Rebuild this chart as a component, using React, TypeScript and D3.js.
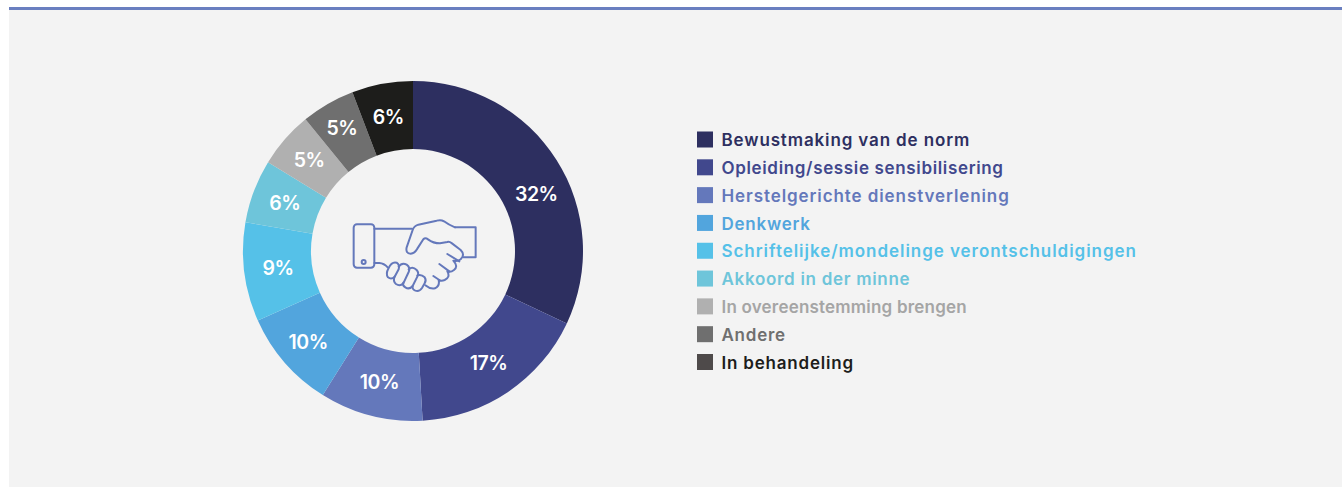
import React from "react";
import * as d3 from "d3";

const categories = ["Bewustmaking van de norm","Opleiding/sessie sensibilisering","Herstelgerichte dienstverlening","Denkwerk","Schriftelijke/mondelinge verontschuldigingen","Akkoord in der minne","In overeenstemming brengen","Andere","In behandeling"];
const values = [32, 17.1, 9.8, 9.4, 9.4, 6.05, 5.35, 5.1, 5.8];
const labels = ["32%","17%","10%","10%","9%","6%","5%","5%","6%"];
const colors = ["#2d2f60","#41488d","#6478bb","#52a5dd","#55c1e8","#6ec5da","#b0b0b0","#6f6f6f","#1d1d1b"];
const legendSwatch = ["#2d2f60","#41488d","#6478bb","#52a5dd","#55c1e8","#6ec5da","#b0b0b0","#6f6f6f","#4e4a4a"];
const legendText = ["#2d2f60","#41488d","#6478bb","#52a5dd","#55c1e8","#6ec5da","#a5a5a5","#6f6f6f","#1d1d1b"];
const legendTracking = [0.87, 0.65, 0.91, 0.75, 0.95, 0.7, 0.2, 0.75, 0.8];
const labelRadius = [136, 135, 135, 139, 136, 137, 138, 142, 136];

const font = "Inter, 'Noto Sans', sans-serif";

export default function App() {
  const cx = 413, cy = 251;
  const pie = d3.pie<number>().sort(null)(values);
  const arc = d3.arc<d3.PieArcDatum<number>>().innerRadius(102).outerRadius(170);
  const y = d3.scalePoint<string>().domain(categories).range([140, 362.5]);
  return (
    <svg width={1342} height={487} style={{ position: "fixed", left: 0, top: 0, fontFamily: font }}>
      <rect width={1342} height={487} fill="#fff" />
      <rect x={9} y={9} width={1333} height={478} fill="#f3f3f3" />
      <rect x={9} y={7} width={1333} height={3} fill="#6a7fc0" />
      <g transform={`translate(${cx},${cy})`}>
        {pie.map((d, i) => <path key={i} d={arc(d)!} fill={colors[i]} />)}
        {pie.map((d, i) => {
          const a = (d.startAngle + d.endAngle) / 2 + (i === 0 ? 0.13 : 0);
          const r = labelRadius[i];
          return <text key={i} x={Math.sin(a) * r} y={-Math.cos(a) * r} dy="0.36em" textAnchor="middle" fill="#fff" fontSize={19.5} fontWeight={600} letterSpacing={-0.5}>{labels[i]}</text>;
        })}
      </g>
      <g transform="translate(340,200) scale(0.3333)" fill="none" stroke="#6478bb" strokeWidth={6} strokeLinejoin="round" strokeLinecap="round">
        <rect x={41} y={73} width={62} height={130} rx={10} />
        <circle cx={71} cy={186} r={6} />
        <path d="M103,86 H216" />
        <path d="M103,189 H118 Q132,190 143,202" />
        <path d="M345,82 H407 V172 H370" />
        <path d="M345,82 Q325,74 312,64 Q303,58 290,62 L235,74 Q222,78 218,90 L200,142 Q196,160 212,161 Q224,160 232,146 L250,118 Q256,112 264,118 Q280,130 300,130 L322,126 Q328,124 336,130 L362,150 Q376,164 362,178 Q352,186 340,182 Q356,200 342,210 Q332,218 322,214 Q332,232 314,240 Q304,244 296,240 Q300,258 285,265 Q270,268 256,256" />
        <path d="M322,162 L358,184" />
        <path d="M298,192 L328,214" />
        <path d="M280,228 L298,240" />
        <path d="M146,204 Q155,184 170,188 Q180,194 176,208 L164,230 Q154,240 144,232 Q136,222 146,204 Z" />
        <path d="M176,200 Q186,186 200,194 Q212,202 206,216 L190,250 Q180,260 168,252 Q158,244 164,230" />
        <path d="M206,208 Q218,198 230,210 Q238,218 232,230 L218,258 Q208,270 196,262 Q186,256 190,248" />
        <path d="M232,226 Q244,222 254,232 Q260,240 254,250 L246,264 Q238,276 226,272 Q216,268 218,258" />
      </g>
      {categories.map((c, i) => (
        <g key={c} transform={`translate(0,${y(c)})`}>
          <rect x={697} y={-8.5} width={16} height={16} fill={legendSwatch[i]} />
          <text x={721.5} y={0} dy="0.36em" fontSize={17} fontWeight={600} letterSpacing={legendTracking[i]} fill={legendText[i]}>{c}</text>
        </g>
      ))}
    </svg>
  );
}
